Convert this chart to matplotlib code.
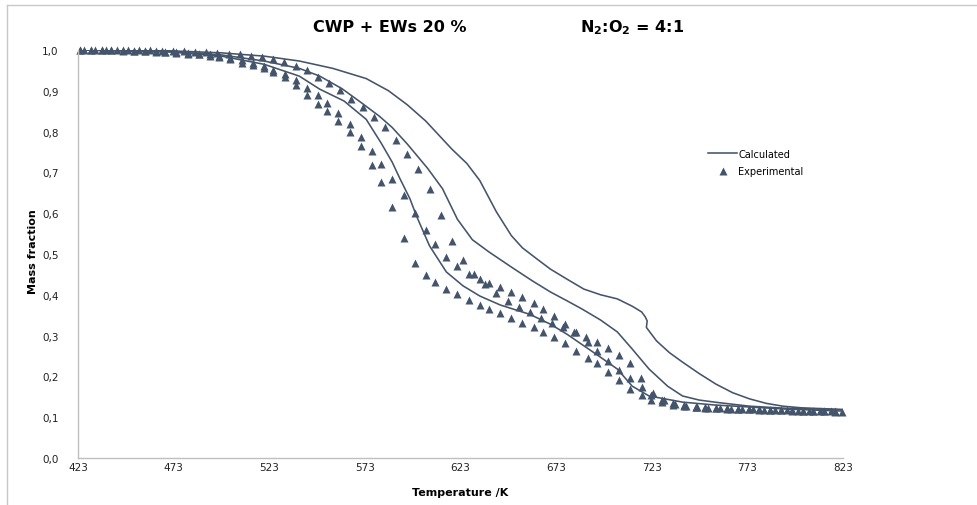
import matplotlib
matplotlib.use("Agg")
import matplotlib.pyplot as plt
from matplotlib.lines import Line2D
from matplotlib.ticker import FuncFormatter

# ---------------- data ----------------
# Calculated curves (temperature K, mass fraction)
calc_upper_T = [423, 471.6, 497.9, 520.3, 538.7, 556.2, 573.7, 585.4, 595.1, 604.8, 618.5, 626.3,
                633.1, 641.8, 649.6, 655.4, 663.2, 670.0, 678.8, 687.5, 696.3, 705.0, 712.8, 717.7,
                719.6, 720.6, 720.2, 725.5, 732.3, 739.1, 747.8, 756.6, 765.3, 774.1, 782.8, 791.6,
                801.3, 823]
calc_upper_m = [1.000, 0.998, 0.993, 0.985, 0.973, 0.955, 0.930, 0.900, 0.866, 0.826, 0.757, 0.722,
                0.680, 0.603, 0.545, 0.515, 0.487, 0.463, 0.438, 0.414, 0.400, 0.390, 0.372, 0.358,
                0.346, 0.336, 0.320, 0.287, 0.258, 0.235, 0.207, 0.181, 0.160, 0.145, 0.134, 0.127,
                0.123, 0.119]

calc_mid_T = [423, 471.6, 497.9, 520.3, 538.7, 549.4, 561.1, 570.8, 580.5, 587.3, 595.1, 605.8,
              613.6, 621.4, 629.2, 637.9, 649.6, 660.3, 670.0, 678.8, 686.6, 696.3, 705.0, 712.8,
              721.6, 731.3, 739.1, 747.8, 757.5, 774.1, 792.6, 823]
calc_mid_m = [1.000, 0.996, 0.988, 0.973, 0.955, 0.936, 0.905, 0.872, 0.838, 0.810, 0.770, 0.710,
              0.660, 0.585, 0.535, 0.505, 0.468, 0.435, 0.407, 0.385, 0.365, 0.338, 0.309, 0.267,
              0.218, 0.176, 0.152, 0.142, 0.136, 0.127, 0.122, 0.118]

calc_low_T = [423, 471.6, 497.9, 520.3, 538.7, 549.4, 562.1, 573.7, 581.5, 587.3, 591.2, 596.6,
              600.0, 606.8, 615.6, 624.3, 633.1, 643.8, 659.3, 670.0, 678.8, 687.5, 695.3, 705.0,
              712.8, 721.6, 739.1, 755.6, 774.1, 792.6, 823]
calc_low_m = [1.000, 0.995, 0.985, 0.965, 0.936, 0.904, 0.875, 0.830, 0.772, 0.725, 0.686, 0.635,
              0.593, 0.520, 0.456, 0.422, 0.397, 0.375, 0.352, 0.328, 0.303, 0.275, 0.250, 0.218,
              0.176, 0.152, 0.137, 0.130, 0.125, 0.120, 0.115]

# Experimental points, series A and B share temperatures
exp_ab_T = [424.0, 429.8, 435.6, 440.5, 446.3, 452.2, 458.0, 463.8, 468.7, 474.5,
            480.4, 486.2, 492.0, 496.9, 502.7, 508.6, 514.4, 520.3, 525.1, 531.0,
            536.8, 542.6, 548.5, 553.3, 559.2, 565.0, 570.8, 576.7, 581.5, 587.4,
            593.2, 599.0, 604.9, 609.7, 615.6, 621.4, 627.2, 633.1, 638.0, 643.8,
            649.6, 655.4, 661.3, 666.1, 672.0, 677.8, 683.6, 689.5, 694.3, 700.2,
            706.0, 711.8, 717.7, 722.5, 728.4, 734.2, 740.0, 745.9, 750.7, 756.6,
            762.4, 768.2, 774.1, 778.9, 784.8, 790.6, 796.4, 802.3, 807.1, 813.0, 818.8]
exp_a_m = [1.000, 1.000, 0.999, 0.999, 0.998, 0.998, 0.997, 0.996, 0.995, 0.993,
           0.991, 0.989, 0.986, 0.983, 0.977, 0.969, 0.963, 0.955, 0.945, 0.933,
           0.915, 0.889, 0.868, 0.850, 0.826, 0.798, 0.764, 0.718, 0.676, 0.615,
           0.540, 0.478, 0.449, 0.431, 0.414, 0.402, 0.388, 0.376, 0.366, 0.355,
           0.343, 0.331, 0.320, 0.310, 0.296, 0.281, 0.263, 0.246, 0.232, 0.210,
           0.192, 0.170, 0.155, 0.143, 0.137, 0.130, 0.127, 0.125, 0.123, 0.122,
           0.121, 0.120, 0.119, 0.118, 0.117, 0.117, 0.116, 0.115, 0.114, 0.114, 0.113]
exp_b_m = [1.000, 1.000, 1.000, 0.999, 0.999, 0.998, 0.998, 0.997, 0.996, 0.995,
           0.993, 0.991, 0.989, 0.986, 0.981, 0.975, 0.968, 0.961, 0.952, 0.940,
           0.926, 0.907, 0.889, 0.870, 0.845, 0.818, 0.787, 0.752, 0.720, 0.683,
           0.645, 0.600, 0.558, 0.525, 0.492, 0.470, 0.452, 0.438, 0.429, 0.419,
           0.406, 0.394, 0.381, 0.366, 0.349, 0.329, 0.308, 0.284, 0.262, 0.238,
           0.215, 0.196, 0.175, 0.155, 0.142, 0.134, 0.129, 0.126, 0.124, 0.123,
           0.122, 0.121, 0.120, 0.119, 0.118, 0.118, 0.117, 0.116, 0.115, 0.115, 0.114]

exp_c_T = [425.9, 431.7, 437.6, 443.4, 449.3, 455.1, 460.9, 466.8, 472.6, 478.4,
           484.3, 490.1, 495.9, 501.8, 507.6, 513.4, 519.3, 525.1, 530.9, 536.8,
           542.6, 548.4, 554.3, 560.1, 565.9, 571.8, 577.6, 583.4, 589.3, 595.1,
           600.9, 606.8, 612.6, 618.4, 624.3, 630.1, 636.0, 641.8, 647.6, 653.5,
           659.3, 665.1, 671.0, 676.8, 682.6, 688.5, 694.3, 700.1, 706.0, 711.8,
           717.6, 723.5, 729.3, 735.1, 741.0, 746.8, 752.6, 758.5, 764.3, 770.1,
           776.0, 781.8, 787.6, 793.5, 799.3, 805.1, 811.0, 816.8, 822.6]
exp_c_m = [1.000, 1.000, 1.000, 1.000, 0.999, 0.999, 0.999, 0.998, 0.998, 0.997,
           0.996, 0.995, 0.993, 0.991, 0.989, 0.986, 0.982, 0.977, 0.971, 0.962,
           0.950, 0.935, 0.918, 0.901, 0.881, 0.860, 0.836, 0.811, 0.780, 0.746,
           0.708, 0.660, 0.595, 0.533, 0.485, 0.451, 0.426, 0.405, 0.385, 0.369,
           0.357, 0.344, 0.331, 0.321, 0.310, 0.297, 0.284, 0.269, 0.253, 0.232,
           0.195, 0.160, 0.142, 0.133, 0.128, 0.125, 0.123, 0.122, 0.121, 0.120,
           0.119, 0.118, 0.118, 0.117, 0.116, 0.115, 0.114, 0.114, 0.113]

x_ticks = [423, 473, 523, 573, 623, 673, 723, 773, 823]
y_ticks = [0.0, 0.1, 0.2, 0.3, 0.4, 0.5, 0.6, 0.7, 0.8, 0.9, 1.0]

# ---------------- plot ----------------
W, H = 977, 506
col = "#44546A"
grey = "#BFBFBF"
plt.rcParams["mathtext.default"] = "bf"
fig = plt.figure(figsize=(W / 100, H / 100), dpi=100)
ax = fig.add_axes([78 / W, 1 - 459 / H, (843 - 78) / W, (459 - 51) / H])

for T, m in [(calc_upper_T, calc_upper_m), (calc_mid_T, calc_mid_m), (calc_low_T, calc_low_m)]:
    ax.plot(T, m, color=col, lw=1.15, solid_joinstyle="round")
for T, m in [(exp_ab_T, exp_a_m), (exp_ab_T, exp_b_m), (exp_c_T, exp_c_m)]:
    ax.plot(T, m, ls="none", marker="^", ms=5.2, color=col, mec="none", clip_on=False)

ax.set_xlim(423, 823)
ax.set_ylim(0, 1.0)
ax.set_xticks(x_ticks)
ax.set_yticks(y_ticks)
ax.yaxis.set_major_formatter(FuncFormatter(lambda v, p: f"{v:.1f}".replace(".", ",")))
ax.tick_params(length=0, labelsize=7.5, colors="#222222")
ax.tick_params(axis="y", pad=14)
ax.tick_params(axis="x", pad=3)
for s in ["top", "right"]:
    ax.spines[s].set_visible(False)
for s in ["left", "bottom"]:
    ax.spines[s].set_color(grey)
    ax.spines[s].set_linewidth(1.0)

lab_font = dict(family=["Liberation Sans Narrow", "DejaVu Sans"], weight="bold", size=8)
fig.text(33 / W, 1 - 252 / H, "Mass fraction", rotation=90, ha="center", va="center", **lab_font)
fig.text(460 / W, 1 - 493 / H, "Temperature /K", ha="center", va="center", **lab_font)

fig.text(390 / W, 1 - 28 / H, "CWP + EWs 20 %", ha="center", va="center", weight="bold", size=11.5)
fig.text(632 / W, 1 - 28 / H, "N$_2$:O$_2$ = 4:1", ha="center", va="center", weight="bold", size=11.5)

handles = [Line2D([], [], color=col, lw=1.15),
           Line2D([], [], ls="none", marker="^", ms=5.2, color=col, mec="none")]
ax.legend(handles, ["Calculated", "Experimental"], loc="center left",
          bbox_to_anchor=(708 / W, 1 - 163.5 / H), bbox_transform=fig.transFigure,
          frameon=False, fontsize=7, handlelength=3.0, handletextpad=0.1,
          labelspacing=0.8, borderpad=0, borderaxespad=0)

# outer chart border (top and left visible)
fig.add_artist(Line2D([7 / W, 1], [1 - 6 / H, 1 - 6 / H], transform=fig.transFigure, color="#C8C8C8", lw=1))
fig.add_artist(Line2D([7 / W, 7 / W], [0, 1 - 6 / H], transform=fig.transFigure, color="#C8C8C8", lw=1))

fig.savefig("out.png", dpi=100)
